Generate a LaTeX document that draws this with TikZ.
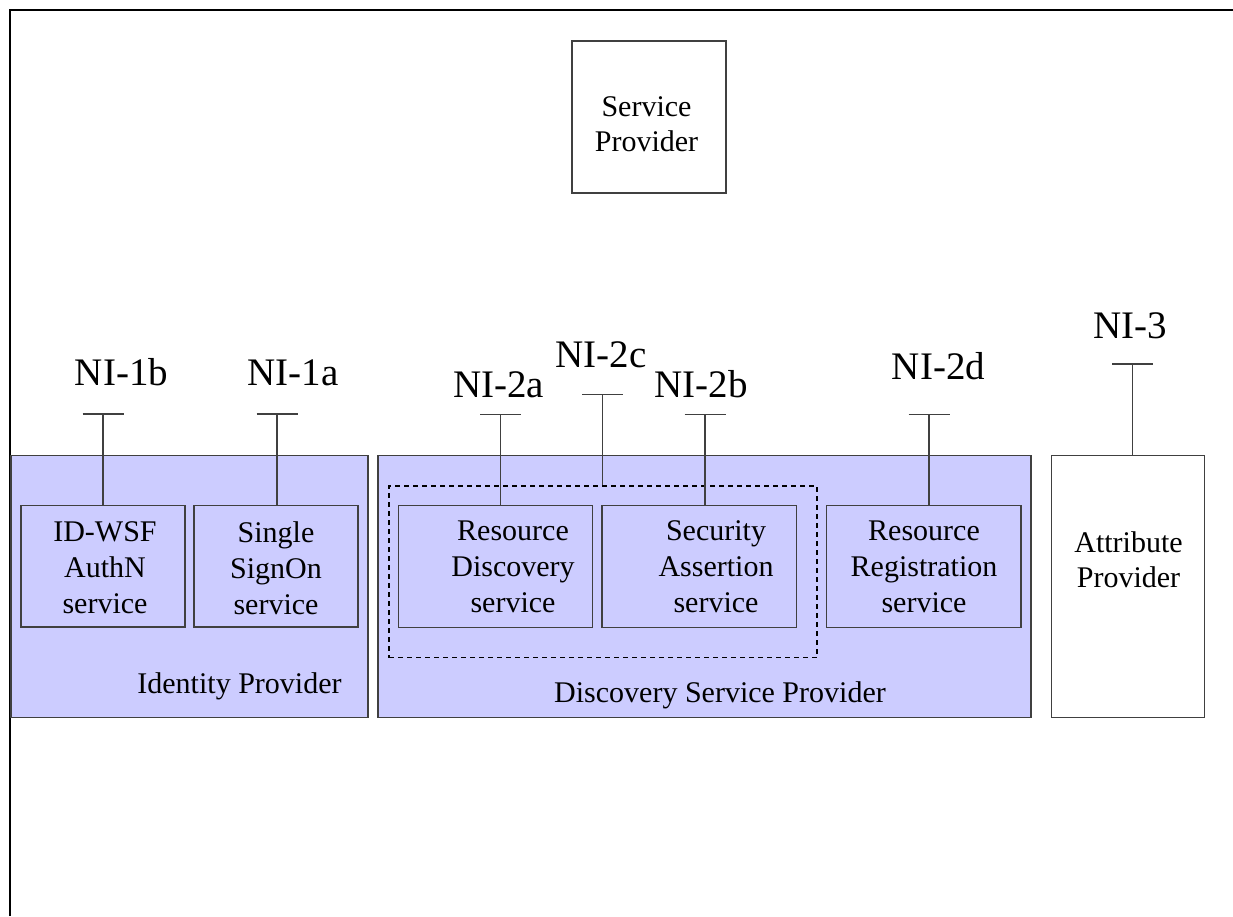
\documentclass[tikz,border=0pt]{standalone}
\usepackage{fontspec}
\setmainfont{Liberation Serif}
\definecolor{boxfill}{HTML}{CCCCFF}
\definecolor{boxline}{HTML}{404040}
\tikzset{
  frame/.style={draw=black, line width=2pt},
  cbox/.style={draw=boxline, line width=1.3pt, inner sep=0pt, fill=boxfill},
  wbox/.style={draw=boxline, line width=1.3pt, inner sep=0pt, fill=white},
  dashbox/.style={draw=black, line width=1.2pt, dash pattern=on 5pt off 4pt, inner sep=0pt},
  conn/.style={draw=boxline, line width=1.3pt},
  nilabel/.style={font=\fontsize{39}{47}\selectfont, anchor=base, inner sep=0pt},
  boxtext/.style={font=\fontsize{30}{36}\selectfont, align=center, inner sep=0pt},
  boxtexttwo/.style={font=\fontsize{30}{35}\selectfont, align=center, inner sep=0pt},
  grouplabel/.style={font=\fontsize{30}{36}\selectfont, anchor=base, inner sep=0pt}
}
\begin{document}
\begin{tikzpicture}[x=1pt, y=-1pt]
\useasboundingbox (0,0) rectangle (1233,916);
\fill[white] (0,0) rectangle (1233,916);
% outer frame
\draw[frame] (10,916) -- (10,10) -- (1233,10);

% Service Provider
\node[wbox, minimum width=154pt, minimum height=152pt] (sp) at (649,117) {};
\node[boxtexttwo] (spt) at (646.5,124.5) {Service\\Provider};

% Identity Provider
\node[cbox, minimum width=357pt, minimum height=262pt] (idp) at (189.5,586.7) {};
\node[grouplabel] (idpt) at (239.5,693) {Identity Provider};
\node[cbox, minimum width=164pt, minimum height=121.3pt] (idwsf) at (103,566.4) {};
\node[boxtext] (idwsft) at (105,568) {ID-WSF\\AuthN\\service};
\node[cbox, minimum width=164pt, minimum height=121.3pt] (sso) at (276,566.4) {};
\node[boxtext] (ssot) at (276,568) {Single\\SignOn\\service};

% Discovery Service Provider
\node[cbox, minimum width=653pt, minimum height=262pt] (dsp) at (704.5,586.7) {};
\node[grouplabel] (dspt) at (720,702) {Discovery Service Provider};
\node[dashbox, minimum width=428pt, minimum height=171.7pt] (dash) at (603,571.85) {};
\node[cbox, minimum width=194pt, minimum height=121.6pt] (rd) at (495.7,566.5) {};
\node[boxtext] (rdt) at (513,567) {Resource\\Discovery\\service};
\node[cbox, minimum width=194.7pt, minimum height=121.6pt] (sa) at (699.3,566.5) {};
\node[boxtext] (sat) at (716,567) {Security\\Assertion\\service};
\node[cbox, minimum width=194.3pt, minimum height=122pt] (rr) at (923.9,566.7) {};
\node[boxtext] (rrt) at (924,566.5) {Resource\\Registration\\service};

% Attribute Provider
\node[wbox, minimum width=153.4pt, minimum height=262pt] (ap) at (1128,586.7) {};
\node[boxtexttwo] (apt) at (1128.5,560) {Attribute\\Provider};

% interface points
\coordinate (t1b) at (103,414);
\coordinate (t1a) at (277,414);
\coordinate (t2a) at (500.5,414.3);
\coordinate (t2c) at (602.5,394.3);
\coordinate (t2b) at (705,414.3);
\coordinate (t2d) at (929,414.7);
\coordinate (t3) at (1132.5,364);

\foreach \t in {t1b,t1a,t2a,t2c,t2b,t2d,t3}{
  \draw[conn] ([xshift=-20.5pt]\t) -- ([xshift=20.5pt]\t);
}
\draw[conn] (t1b) -- (t1b |- idwsf.north);
\draw[conn] (t1a) -- (t1a |- sso.north);
\draw[conn] (t2a) -- (t2a |- rd.north);
\draw[conn] (t2c) -- (t2c |- dash.north);
\draw[conn] (t2b) -- (t2b |- sa.north);
\draw[conn] (t2d) -- (t2d |- rr.north);
\draw[conn] (t3) -- (t3 |- ap.north);

% labels
\node[nilabel] (l1b) at (121.5,385) {NI-1b};
\node[nilabel] (l1a) at (293,385) {NI-1a};
\node[nilabel] (l2a) at (498.5,397) {NI-2a};
\node[nilabel] (l2c) at (601,367) {NI-2c};
\node[nilabel] (l2b) at (701,397) {NI-2b};
\node[nilabel] (l2d) at (938.5,379) {NI-2d};
\node[nilabel] (l3) at (1130,338) {NI-3};
\end{tikzpicture}
\end{document}
